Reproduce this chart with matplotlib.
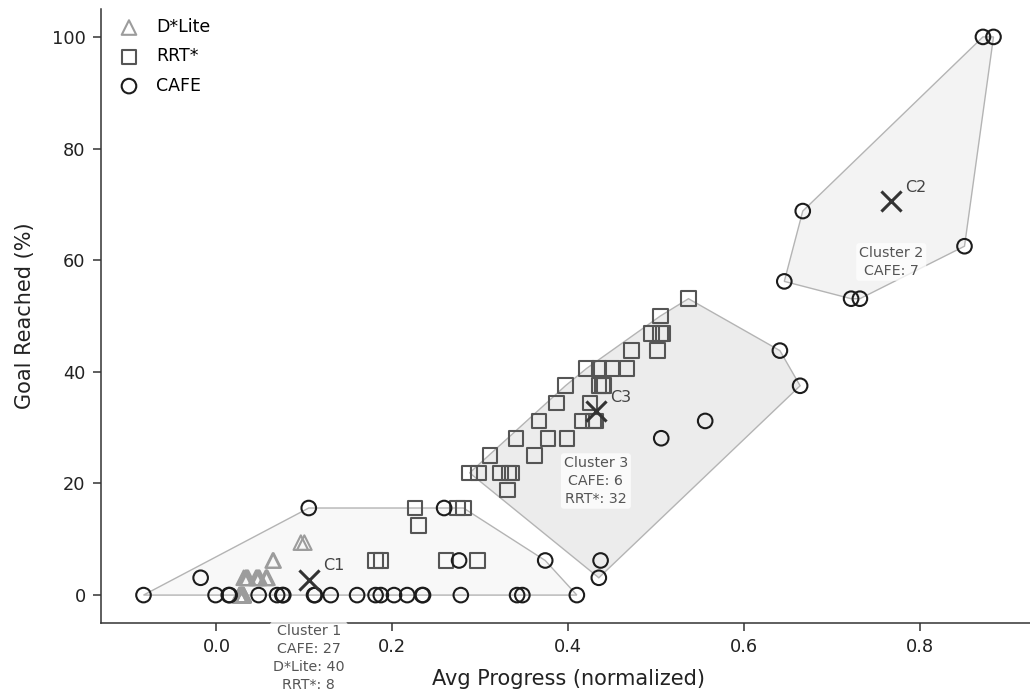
import numpy as np
import matplotlib
matplotlib.use("Agg")
import matplotlib.pyplot as plt

# cluster 1 (low progress, mostly failed runs)
c1_cafe_x = [-0.083, -0.018, -0.001, 0.014, 0.015, 0.048, 0.069, 0.075, 0.076, 0.105,
             0.111, 0.112, 0.130, 0.160, 0.181, 0.187, 0.202, 0.217, 0.234, 0.235,
             0.259, 0.276, 0.278, 0.342, 0.348, 0.374, 0.410]
c1_cafe_y = [0, 3.1, 0, 0, 0, 0, 0, 0, 0, 15.6,
             0, 0, 0, 0, 0, 0, 0, 0, 0, 0,
             15.6, 6.2, 0, 0, 0, 6.2, 0]
c1_dlite_x = [0.096, 0.100, 0.064, 0.065,
              0.031, 0.033, 0.035, 0.036, 0.045, 0.046, 0.048, 0.049, 0.056, 0.057,
              0.058, 0.034, 0.047, 0.057,
              0.026, 0.027, 0.028, 0.028, 0.029, 0.029, 0.030, 0.030, 0.031, 0.027,
              0.028, 0.029, 0.030, 0.031, 0.026, 0.028, 0.029, 0.030, 0.027, 0.029,
              0.031, 0.028]
c1_dlite_y = [9.4, 9.4, 6.2, 6.2,
              3.1, 3.1, 3.1, 3.1, 3.1, 3.1, 3.1, 3.1, 3.1, 3.1,
              3.1, 3.1, 3.1, 3.1,
              0, 0, 0, 0, 0, 0, 0, 0, 0, 0,
              0, 0, 0, 0, 0, 0, 0, 0, 0, 0,
              0, 0]
c1_rrt_x = [0.226, 0.230, 0.274, 0.281, 0.261, 0.297, 0.181, 0.187]
c1_rrt_y = [15.6, 12.5, 15.6, 15.6, 6.2, 6.2, 6.2, 6.2]

# cluster 2 (CAFE successes)
c2_cafe_x = [0.872, 0.884, 0.667, 0.851, 0.646, 0.722, 0.732]
c2_cafe_y = [100, 100, 68.8, 62.5, 56.2, 53.1, 53.1]

# cluster 3 (mid progress)
c3_cafe_x = [0.437, 0.435, 0.506, 0.556, 0.641, 0.664]
c3_cafe_y = [6.2, 3.1, 28.1, 31.2, 43.8, 37.5]
c3_rrt_x = [0.537, 0.505, 0.495, 0.505, 0.508, 0.502, 0.472,
            0.421, 0.435, 0.450, 0.467, 0.397, 0.435, 0.439, 0.441,
            0.387, 0.425, 0.367, 0.416, 0.429, 0.432,
            0.341, 0.377, 0.399, 0.311, 0.362,
            0.288, 0.298, 0.323, 0.333, 0.336, 0.331]
c3_rrt_y = [53.1, 50.0, 46.9, 46.9, 46.9, 43.8, 43.8,
            40.6, 40.6, 40.6, 40.6, 37.5, 37.5, 37.5, 37.5,
            34.4, 34.4, 31.2, 31.2, 31.2, 31.2,
            28.1, 28.1, 28.1, 25.0, 25.0,
            21.9, 21.9, 21.9, 21.9, 21.9, 18.8]

clusters = {
    1: {"CAFE": (c1_cafe_x, c1_cafe_y), "D*Lite": (c1_dlite_x, c1_dlite_y), "RRT*": (c1_rrt_x, c1_rrt_y)},
    2: {"CAFE": (c2_cafe_x, c2_cafe_y)},
    3: {"CAFE": (c3_cafe_x, c3_cafe_y), "RRT*": (c3_rrt_x, c3_rrt_y)},
}

styles = {
    "D*Lite": dict(marker="^", edgecolor="#9c9c9c"),
    "RRT*": dict(marker="s", edgecolor="#555555"),
    "CAFE": dict(marker="o", edgecolor="#1c1c1c"),
}
hull_fill = {1: "#f8f8f8", 2: "#f3f3f3", 3: "#ececec"}


def convex_hull(pts):
    pts = sorted(set(map(tuple, pts)))
    if len(pts) < 3:
        return np.array(pts)

    def cross(o, a, b):
        return (a[0] - o[0]) * (b[1] - o[1]) - (a[1] - o[1]) * (b[0] - o[0])

    lower, upper = [], []
    for p in pts:
        while len(lower) >= 2 and cross(lower[-2], lower[-1], p) <= 0:
            lower.pop()
        lower.append(p)
    for p in reversed(pts):
        while len(upper) >= 2 and cross(upper[-2], upper[-1], p) <= 0:
            upper.pop()
        upper.append(p)
    return np.array(lower[:-1] + upper[:-1])


fig = plt.figure(figsize=(10.3, 6.93), dpi=100)
ax = fig.add_axes([101 / 1030, 70 / 693, 935 / 1030, 614 / 693])

for cid, members in clusters.items():
    xs = np.concatenate([np.asarray(v[0], float) for v in members.values()])
    ys = np.concatenate([np.asarray(v[1], float) for v in members.values()])
    hull = convex_hull(np.column_stack([xs, ys]))
    ax.fill(hull[:, 0], hull[:, 1], facecolor=hull_fill[cid], edgecolor="#b4b4b4",
            linewidth=1.0, zorder=1)

    # centroid = mean of all runs in the cluster
    cx, cy = xs.mean(), ys.mean()
    ax.scatter([cx], [cy], marker="x", s=210, color="#333333", linewidths=2.2, zorder=5)
    ax.annotate(f"C{cid}", (cx, cy), xytext=(10, 7), textcoords="offset points",
                ha="left", va="baseline", fontsize=11.5, color="#444444", zorder=6)

    lines = [f"Cluster {cid}"] + [f"{m}: {len(members[m][0])}" for m in sorted(members)]
    ax.text(cx, cy - 8, "\n".join(lines), ha="center", va="top", multialignment="center",
            fontsize=10.3, linespacing=1.35, color="#555555", zorder=7, clip_on=False,
            bbox=dict(boxstyle="round,pad=0.2", facecolor="white", edgecolor="none", alpha=0.75))

for m in ["D*Lite", "RRT*", "CAFE"]:
    xs, ys = [], []
    for members in clusters.values():
        if m in members:
            xs += list(members[m][0])
            ys += list(members[m][1])
    ax.scatter(xs, ys, s=110, facecolor="none", linewidths=1.5, label=m, zorder=3,
               **styles[m])

ax.legend(loc="upper left", frameon=False, fontsize=12.5, handlelength=1.5,
          borderaxespad=0.3, labelspacing=0.65, bbox_to_anchor=(0.003, 1.005))

ax.set_ylim(-5, 105)
ax.set_xticks([0.0, 0.2, 0.4, 0.6, 0.8])
ax.set_yticks([0, 20, 40, 60, 80, 100])
ax.set_xlabel("Avg Progress (normalized)", fontsize=15, color="#222222", labelpad=9)
ax.set_ylabel("Goal Reached (%)", fontsize=15, color="#222222", labelpad=12)
ax.tick_params(labelsize=12.8, length=6, width=1.1, pad=5, color="#333333",
               labelcolor="#222222")
for side in ["top", "right"]:
    ax.spines[side].set_visible(False)
for side in ["left", "bottom"]:
    ax.spines[side].set_linewidth(1.1)
    ax.spines[side].set_color("#333333")

fig.savefig("out.png", dpi=100)
